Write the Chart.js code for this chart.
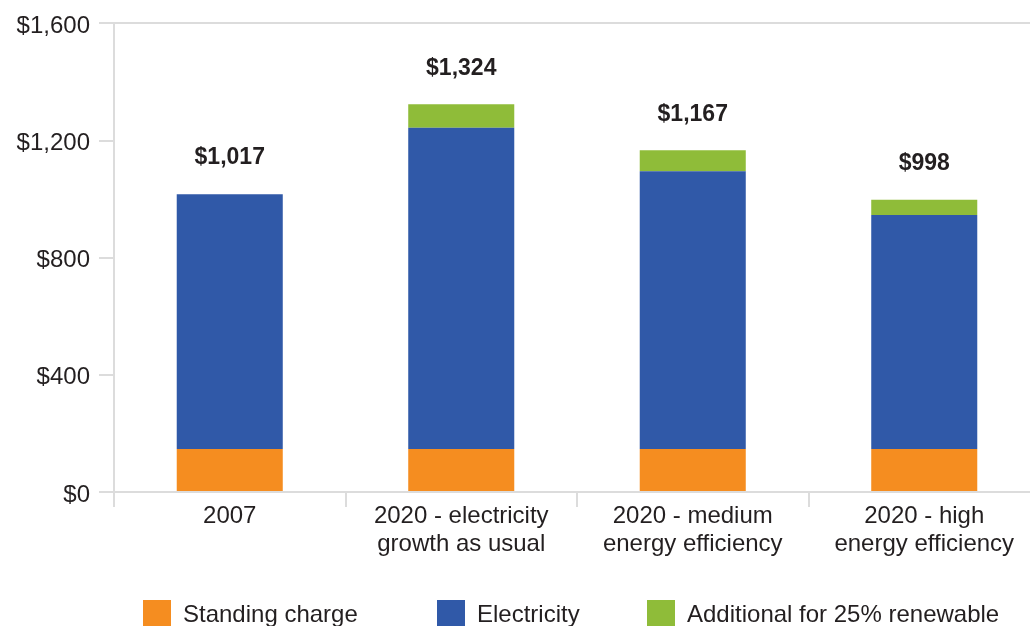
<!DOCTYPE html>
<html>
<head>
<meta charset="utf-8">
<script src="https://cdn.jsdelivr.net/npm/chart.js@4.4.1/dist/chart.umd.min.js"></script>
<style>
  html, body { margin: 0; padding: 0; background: #fff; overflow: hidden; }
  #wrap { position: relative; width: 1046px; height: 626px; }
  #legend { position: absolute; left: 0; top: 600px; width: 1046px; height: 40px; }
  .lg-item { position: absolute; top: 0; display: flex; align-items: center;
    font-family: "Liberation Sans", Arial, sans-serif; font-size: 24px; color: #231f20; white-space: nowrap; }
  .lg-box { width: 28px; height: 28px; margin-right: 12px; }
</style>
</head>
<body>
<div id="wrap">
  <canvas id="bill"></canvas>
  <div id="legend"></div>
</div>
<script>
const categories = [
  "2007",
  ["2020 - electricity", "growth as usual"],
  ["2020 - medium", "energy efficiency"],
  ["2020 - high", "energy efficiency"],
];
const standingCharge = [147, 147, 147, 147];
const electricity = [870, 1097, 948, 799];
const renewable = [0, 80, 72, 52];
const yTicks = [0, 400, 800, 1200, 1600];

const ORANGE = "#F58D20";
const BLUE = "#3059A8";
const GREEN = "#8FBC39";
const AXIS = "#dcdcdc";
const TEXT = "#231f20";
const FONT = "'Liberation Sans', Arial, Helvetica, sans-serif";

Chart.defaults.font.family = FONT;
Chart.defaults.color = TEXT;
Chart.defaults.animation = false;

const money = (v) => "$" + v.toLocaleString("en-US");

// totals above each stacked column
const totalLabels = {
  id: "totalLabels",
  afterDatasetsDraw(chart) {
    const { ctx } = chart;
    const y = chart.scales.y;
    const meta = chart.getDatasetMeta(0);
    ctx.save();
    ctx.font = "bold 23px " + FONT;
    ctx.fillStyle = TEXT;
    ctx.textAlign = "center";
    ctx.textBaseline = "middle";
    categories.forEach((_, i) => {
      const total = standingCharge[i] + electricity[i] + renewable[i];
      ctx.fillText(money(total), meta.data[i].x, y.getPixelForValue(total) - 36);
    });
    ctx.restore();
  },
};

const chart = new Chart(document.getElementById("bill"), {
  type: "bar",
  data: {
    labels: categories,
    datasets: [
      { label: "Standing charge", data: standingCharge, backgroundColor: ORANGE },
      { label: "Electricity", data: electricity, backgroundColor: BLUE },
      { label: "Additional for 25% renewable", data: renewable, backgroundColor: GREEN },
    ],
  },
  options: {
    responsive: true,
    maintainAspectRatio: false,
    layout: { padding: { top: 20, right: 6, left: 0, bottom: 0 } },
    datasets: { bar: { barPercentage: 0.458, categoryPercentage: 1, borderWidth: 0 } },
    plugins: { legend: { display: false }, tooltip: { enabled: false } },
    scales: {
      x: {
        stacked: true,
        border: { color: AXIS, width: 2 },
        grid: { offset: true, drawOnChartArea: false, color: AXIS, lineWidth: 2, tickLength: 15 },
        ticks: { font: { size: 24, lineHeight: 1.17 }, color: TEXT, padding: -5, maxRotation: 0 },
        afterFit: (s) => { s.height = 134; },
      },
      y: {
        stacked: true,
        min: 0,
        max: 1600,
        afterBuildTicks: (s) => { s.ticks = yTicks.map((v) => ({ value: v })); },
        border: { color: AXIS, width: 2 },
        grid: {
          color: (c) => (c.tick && c.tick.value === 1600 ? AXIS : "transparent"),
          tickColor: AXIS,
          lineWidth: 2,
          tickLength: 15,
        },
        ticks: { font: { size: 24 }, color: TEXT, padding: 9, labelOffset: 3, callback: (v) => money(v) },
        afterFit: (s) => { s.width = 114; },
      },
    },
  },
  plugins: [totalLabels],
});

// legend row along the bottom edge
const legendLeft = [143, 437, 647];
const legend = document.getElementById("legend");
chart.data.datasets.forEach((ds, i) => {
  const item = document.createElement("div");
  item.className = "lg-item";
  item.style.left = legendLeft[i] + "px";
  item.innerHTML = `<span class="lg-box" style="background:${ds.backgroundColor}"></span><span>${ds.label}</span>`;
  legend.appendChild(item);
});
</script>
</body>
</html>
